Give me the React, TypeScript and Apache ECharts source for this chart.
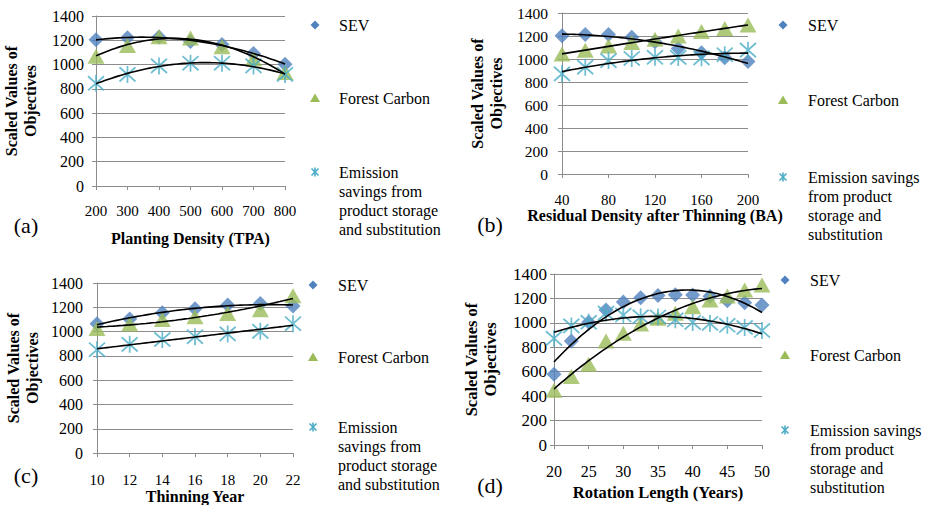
import React, { useEffect, useRef } from 'react';
import * as echarts from 'echarts';

const FONT = 'Liberation Serif, Times New Roman, serif';
const BLUE = '#4F81BD';
const GREEN = '#9BBB59';
const CYAN = '#4BACC6';
const GRID_GRAY = '#8c8c8c';

// Series names
const SERIES_NAMES = ['SEV', 'Forest Carbon', 'Emission savings from product storage and substitution'];

// Panel (a) Planting Density (TPA)
const aX = [200, 300, 400, 500, 600, 700, 800];
const aSEV = [1205, 1220, 1228, 1189, 1165, 1092, 1003];
const aCarbon = [1068, 1157, 1230, 1218, 1146, 1048, 935];
const aEmission = [846, 919, 989, 1011, 1011, 989, 919];

// Panel (b) Residual Density after Thinning (BA)
const bX = [40, 60, 80, 100, 120, 140, 160, 180, 200];
const bSEV = [1202, 1212, 1214, 1190, 1150, 1092, 1055, 1010, 978];
const bCarbon = [1043, 1077, 1114, 1143, 1171, 1200, 1240, 1266, 1296];
const bEmission = [871, 929, 986, 1005, 1015, 1014, 1010, 1037, 1077];

// Panel (c) Thinning Year
const cX = [10, 12, 14, 16, 18, 20, 22];
const cSEV = [1065, 1103, 1155, 1189, 1219, 1232, 1210];
const cCarbon = [1025, 1062, 1100, 1122, 1149, 1180, 1295];
const cEmission = [851, 895, 935, 958, 981, 1002, 1065];

// Panel (d) Rotation Length (Years)
const dX = [20, 22.5, 25, 27.5, 30, 32.5, 35, 37.5, 40, 42.5, 45, 47.5, 50];
const dSEV = [580, 851, 1005, 1105, 1170, 1206, 1225, 1230, 1228, 1218, 1181, 1165, 1146];
const dCarbon = [449, 560, 662, 851, 914, 990, 1037, 1078, 1132, 1187, 1220, 1270, 1310];
const dEmission = [873, 975, 1005, 1080, 1064, 1050, 1048, 1025, 1003, 995, 980, 962, 937];

const X_TITLES = ['Planting Density (TPA)', 'Residual Density after Thinning (BA)', 'Thinning Year', 'Rotation Length (Years)'];
const Y_TITLE = 'Scaled Values of\nObjectives';
const PANEL_LABELS = ['(a)', '(b)', '(c)', '(d)'];

// Least-squares polynomial (order 2) trendline, as in the source spreadsheet
function quadFit(xs: number[], ys: number[]) {
  const n = xs.length;
  const mx = xs.reduce((a, b) => a + b, 0) / n;
  const s = [0, 0, 0, 0, 0];
  const t = [0, 0, 0];
  for (let i = 0; i < n; i++) {
    const u = xs[i] - mx;
    let p = 1;
    for (let k = 0; k < 5; k++) {
      s[k] += p;
      if (k < 3) t[k] += ys[i] * p;
      p *= u;
    }
  }
  const det3 = (m: number[][]) =>
    m[0][0] * (m[1][1] * m[2][2] - m[1][2] * m[2][1]) -
    m[0][1] * (m[1][0] * m[2][2] - m[1][2] * m[2][0]) +
    m[0][2] * (m[1][0] * m[2][1] - m[1][1] * m[2][0]);
  const A = [
    [s[0], s[1], s[2]],
    [s[1], s[2], s[3]],
    [s[2], s[3], s[4]],
  ];
  const D = det3(A);
  const coef = [0, 1, 2].map((j) => {
    const M = A.map((row, r) => row.map((v, c) => (c === j ? t[r] : v)));
    return det3(M) / D;
  });
  return (x: number) => {
    const u = x - mx;
    return coef[0] + coef[1] * u + coef[2] * u * u;
  };
}

function trend(xs: number[], ys: number[]) {
  const f = quadFit(xs, ys);
  const lo = Math.min(...xs);
  const hi = Math.max(...xs);
  const out: number[][] = [];
  const steps = 60;
  for (let i = 0; i <= steps; i++) {
    const x = lo + ((hi - lo) * i) / steps;
    out.push([x, f(x)]);
  }
  return out;
}

const STAR_PATH = 'path://M0,0L10,10M0,10L10,0M5,-1L5,11';

type PanelCfg = {
  xs: number[];
  sev: number[];
  carbon: number[];
  emission: number[];
  grid: { left: number; top: number; width: number; height: number };
  xMin: number;
  xMax: number;
  xInt: number;
  yLabelMargin: number;
  yLabelSize: number;
  xLabelMargin: number;
  xLabelSize: number;
  xNameGap: number;
  yNameGap: number;
  titleSize: number;
};

const PANELS: PanelCfg[] = [
  {
    xs: aX, sev: aSEV, carbon: aCarbon, emission: aEmission,
    grid: { left: 96, top: 16, width: 189, height: 170 },
    xMin: 200, xMax: 800, xInt: 100,
    yLabelMargin: 12, yLabelSize: 16, xLabelMargin: 17, xLabelSize: 15,
    xNameGap: 44, yNameGap: 56, titleSize: 16,
  },
  {
    xs: bX, sev: bSEV, carbon: bCarbon, emission: bEmission,
    grid: { left: 562, top: 13, width: 186, height: 161 },
    xMin: 40, xMax: 200, xInt: 40,
    yLabelMargin: 14, yLabelSize: 15.5, xLabelMargin: 18, xLabelSize: 15,
    xNameGap: 31, yNameGap: 56, titleSize: 16,
  },
  {
    xs: cX, sev: cSEV, carbon: cCarbon, emission: cEmission,
    grid: { left: 97, top: 283, width: 196, height: 175 },
    xMin: 10, xMax: 22, xInt: 2,
    yLabelMargin: 14, yLabelSize: 16, xLabelMargin: 19, xLabelSize: 15,
    xNameGap: 26, yNameGap: 55, titleSize: 16,
  },
  {
    xs: dX, sev: dSEV, carbon: dCarbon, emission: dEmission,
    grid: { left: 554, top: 274, width: 208, height: 171 },
    xMin: 20, xMax: 50, xInt: 5,
    yLabelMargin: 7, yLabelSize: 17, xLabelMargin: 18, xLabelSize: 16,
    xNameGap: 39, yNameGap: 54, titleSize: 16.5,
  },
];

const LEGENDS = [
  { mx: 315, tx: 339, y: [25, 98, 172], em: 'Emission\nsavings from\nproduct storage\nand substitution' },
  { mx: 783, tx: 808, y: [25, 100, 177], em: 'Emission savings\nfrom product\nstorage and\nsubstitution' },
  { mx: 313, tx: 338, y: [285, 357, 427], em: 'Emission\nsavings from\nproduct storage\nand substitution' },
  { mx: 785, tx: 810, y: [280, 355, 430], em: 'Emission savings\nfrom product\nstorage and\nsubstitution' },
];

const PANEL_LABEL_POS = [
  [26, 225],
  [490, 224],
  [26, 475],
  [490, 485],
];

function legendElements(l: { mx: number; tx: number; y: number[]; em: string }) {
  const font = `16px ${FONT}`;
  const [y1, y2, y3] = l.y;
  const m = l.mx;
  return [
    {
      type: 'polygon',
      shape: { points: [[m, y1 - 4.5], [m + 4.5, y1], [m, y1 + 4.5], [m - 4.5, y1]] },
      style: { fill: BLUE },
    },
    { type: 'text', x: l.tx, y: y1, style: { text: SERIES_NAMES[0], font, fill: '#000', verticalAlign: 'middle' } },
    {
      type: 'polygon',
      shape: { points: [[m, y2 - 4.5], [m + 5, y2 + 4], [m - 5, y2 + 4]] },
      style: { fill: GREEN },
    },
    { type: 'text', x: l.tx, y: y2, style: { text: 'Forest Carbon', font, fill: '#000', verticalAlign: 'middle' } },
    { type: 'line', shape: { x1: m - 3.5, y1: y3 - 3.5, x2: m + 3.5, y2: y3 + 3.5 }, style: { stroke: CYAN, lineWidth: 1.6 } },
    { type: 'line', shape: { x1: m - 3.5, y1: y3 + 3.5, x2: m + 3.5, y2: y3 - 3.5 }, style: { stroke: CYAN, lineWidth: 1.6 } },
    { type: 'line', shape: { x1: m, y1: y3 - 4.5, x2: m, y2: y3 + 4.5 }, style: { stroke: CYAN, lineWidth: 1.6 } },
    {
      type: 'text', x: l.tx, y: y3 - 9.5,
      style: { text: l.em, font, fill: '#000', verticalAlign: 'top', lineHeight: 19 },
    },
  ];
}

export default function App() {
  const ref = useRef<HTMLDivElement>(null);
  useEffect(() => {
    if (!ref.current) return;
    const chart = echarts.init(ref.current, undefined, { renderer: 'svg' });

    const grids: any[] = [];
    const xAxes: any[] = [];
    const yAxes: any[] = [];
    const series: any[] = [];

    PANELS.forEach((p, i) => {
      grids.push({ ...p.grid, containLabel: false });
      xAxes.push({
        type: 'value',
        gridIndex: i,
        min: p.xMin,
        max: p.xMax,
        interval: p.xInt,
        name: X_TITLES[i],
        nameLocation: 'middle',
        nameGap: p.xNameGap,
        nameTextStyle: { fontFamily: FONT, fontWeight: 'bold', fontSize: p.titleSize, color: '#000' },
        axisLine: { show: true, lineStyle: { color: GRID_GRAY, width: 1 } },
        axisTick: { show: true, length: 4, lineStyle: { color: GRID_GRAY } },
        axisLabel: { fontFamily: FONT, fontSize: p.xLabelSize, color: '#000', margin: p.xLabelMargin, formatter: (v: number) => String(v) },
        splitLine: { show: false },
      });
      yAxes.push({
        type: 'value',
        gridIndex: i,
        min: 0,
        max: 1400,
        interval: 200,
        name: Y_TITLE,
        nameLocation: 'middle',
        nameGap: p.yNameGap,
        nameTextStyle: { fontFamily: FONT, fontWeight: 'bold', fontSize: p.titleSize, color: '#000', lineHeight: 19 },
        axisLine: { show: true, lineStyle: { color: GRID_GRAY, width: 1 } },
        axisTick: { show: true, length: 4, lineStyle: { color: GRID_GRAY } },
        axisLabel: { fontFamily: FONT, fontSize: p.yLabelSize, color: '#000', margin: p.yLabelMargin, formatter: (v: number) => String(v) },
        splitLine: { show: true, lineStyle: { color: GRID_GRAY, width: 1 } },
      });

      const pts = (ys: number[]) => p.xs.map((x, k) => [x, ys[k]]);
      series.push({
        type: 'scatter', name: SERIES_NAMES[0], xAxisIndex: i, yAxisIndex: i,
        data: pts(p.sev), symbol: 'diamond', symbolSize: [15, 15],
        itemStyle: { color: BLUE }, z: 2,
      });
      series.push({
        type: 'scatter', name: SERIES_NAMES[1], xAxisIndex: i, yAxisIndex: i,
        data: pts(p.carbon), symbol: 'triangle', symbolSize: [17, 15],
        itemStyle: { color: GREEN }, z: 3,
      });
      series.push({
        type: 'scatter', name: SERIES_NAMES[2], xAxisIndex: i, yAxisIndex: i,
        data: pts(p.emission), symbol: STAR_PATH, symbolSize: [16, 17],
        itemStyle: { color: 'transparent', borderColor: CYAN, borderWidth: 1.8 }, z: 4,
      });
      [p.sev, p.carbon, p.emission].forEach((ys, k) => {
        series.push({
          type: 'line', name: SERIES_NAMES[k] + ' trend', xAxisIndex: i, yAxisIndex: i,
          data: trend(p.xs, ys), showSymbol: false, symbol: 'none',
          lineStyle: { color: '#000', width: 1.6 }, z: 6, silent: true,
        });
      });
    });

    const graphics: any[] = [];
    LEGENDS.forEach((l) => graphics.push(...legendElements(l)));
    PANEL_LABELS.forEach((t, i) => {
      graphics.push({
        type: 'text',
        x: PANEL_LABEL_POS[i][0],
        y: PANEL_LABEL_POS[i][1],
        style: { text: t, font: `22px ${FONT}`, fill: '#000', align: 'center', verticalAlign: 'middle' },
      });
    });

    chart.setOption({
      animation: false,
      backgroundColor: '#fff',
      textStyle: { fontFamily: FONT },
      grid: grids,
      xAxis: xAxes,
      yAxis: yAxes,
      series,
      graphic: graphics,
    });
    return () => chart.dispose();
  }, []);

  return (
    <div
      ref={ref}
      style={{ position: 'fixed', left: 0, top: 0, width: 933, height: 505, background: '#fff' }}
    />
  );
}
